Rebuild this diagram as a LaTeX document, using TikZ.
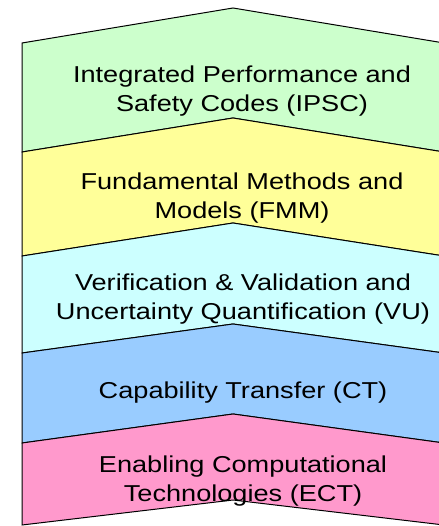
\documentclass[tikz,border=0pt]{standalone}
\usepackage{fontspec}
\setmainfont{Liberation Sans}[FakeStretch=1.18]
\definecolor{ipscgreen}{HTML}{CCFFCC}
\definecolor{fmmyellow}{HTML}{FFFF99}
\definecolor{vucyan}{HTML}{CCFFFF}
\definecolor{ctblue}{HTML}{99CCFF}
\definecolor{ectpink}{HTML}{FF99CC}
\tikzstyle{band}=[draw=black, line width=1pt]
\tikzstyle{bandtext}=[align=center, inner sep=0pt, font=\fontsize{23}{29}\selectfont]

\begin{document}
\begin{tikzpicture}[x=1pt, y=-1pt]
	\useasboundingbox (0,0) rectangle (438,526);
	% chevron bands, top to bottom
	\filldraw[band, fill=ipscgreen] (22,43) -- (233,8) -- (444,43) -- (444,152) -- (233,118) -- (22,152) -- cycle;
	\filldraw[band, fill=fmmyellow] (22,152) -- (233,118) -- (444,152) -- (444,256) -- (233,223) -- (22,256) -- cycle;
	\filldraw[band, fill=vucyan] (22,256) -- (233,223) -- (444,256) -- (444,353) -- (233,324) -- (22,353) -- cycle;
	\filldraw[band, fill=ctblue] (22,353) -- (233,324) -- (444,353) -- (444,443) -- (233,414) -- (22,443) -- cycle;
	\filldraw[band, fill=ectpink] (22,443) -- (233,414) -- (444,443) -- (444,525) -- (233,500) -- (22,525) -- cycle;
	% band titles
	\node[bandtext] (ipsc) at (242,91.5) {Integrated Performance and\\Safety Codes (IPSC)};
	\node[bandtext] (fmm) at (242,198) {Fundamental Methods and\\Models (FMM)};
	\node[bandtext] (vu) at (243,299.5) {Verification \& Validation and\\Uncertainty Quantification (VU)};
	\node[bandtext] (ct) at (243,392.5) {Capability Transfer (CT)};
	\node[bandtext] (ect) at (243,481) {Enabling Computational\\Technologies (ECT)};
\end{tikzpicture}
\end{document}
